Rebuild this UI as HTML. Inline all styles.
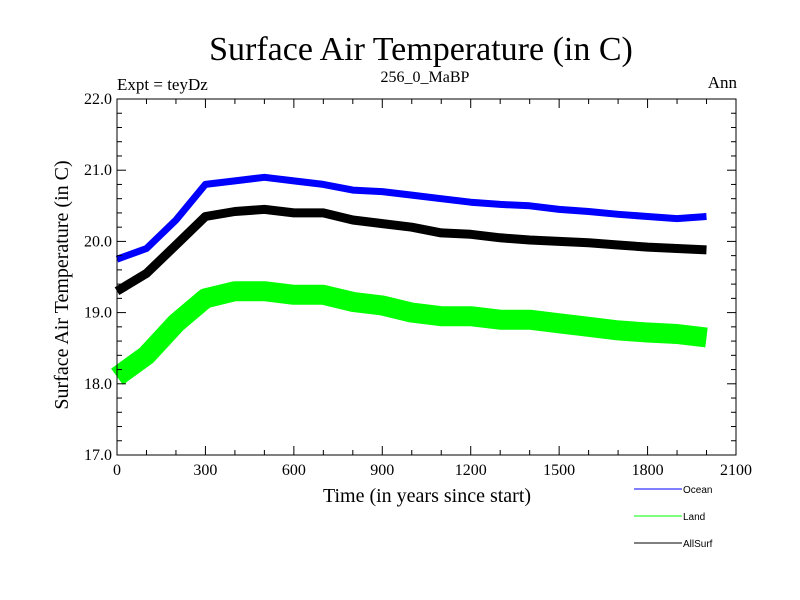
<!DOCTYPE html>
<html><head><meta charset="utf-8"><style>
body{margin:0;background:#fff}
svg{display:block}
text{font-family:"Liberation Serif",serif;fill:#000}
.lg{font-family:"Liberation Sans",sans-serif;font-size:10px}
</style></head><body>
<svg id="c" width="800" height="600">
<text x="421" y="60" font-size="34" text-anchor="middle">Surface Air Temperature (in C)</text>
<text x="117" y="90" font-size="17">Expt = teyDz</text>
<text x="425" y="82" font-size="16" text-anchor="middle">256_0_MaBP</text>
<text x="737" y="88" font-size="17" text-anchor="end">Ann</text>
<text transform="translate(68,285) rotate(-90)" font-size="20" text-anchor="middle">Surface Air Temperature (in C)</text>
<text x="427" y="502" font-size="20" text-anchor="middle">Time (in years since start)</text>
<g id="series"></g>
<g id="axes"></g>
<g>
<line x1="634" y1="489" x2="682" y2="489" stroke="#0000ff"/>
<text class="lg" x="683" y="493">Ocean</text>
<line x1="634" y1="516" x2="682" y2="516" stroke="#00ff00"/>
<text class="lg" x="683" y="520">Land</text>
<line x1="634" y1="543" x2="682" y2="543" stroke="#000"/>
<text class="lg" x="683" y="547">AllSurf</text>
</g>
</svg>
<script>
const years=[0,100,200,300,400,500,600,700,800,900,1000,1100,1200,1300,1400,1500,1600,1700,1800,1900,2000];
const ocean=[19.75,19.9,20.3,20.8,20.85,20.9,20.85,20.8,20.72,20.7,20.65,20.6,20.55,20.52,20.5,20.45,20.42,20.38,20.35,20.32,20.35];
const allsurf=[19.3,19.55,19.95,20.35,20.42,20.45,20.4,20.4,20.3,20.25,20.2,20.12,20.1,20.05,20.02,20.0,19.98,19.95,19.92,19.9,19.88];
const land=[18.1,18.4,18.85,19.2,19.3,19.3,19.25,19.25,19.15,19.1,19.0,18.95,18.95,18.9,18.9,18.85,18.8,18.75,18.72,18.7,18.65];
const xTicks=[0,300,600,900,1200,1500,1800,2100];
const yTicks=[17.0,18.0,19.0,20.0,21.0,22.0];
const L=117,R=736,T=99,B=455;
const sx=v=>L+(v-0)/(2100-0)*(R-L);
const sy=v=>B-(v-17)/(22-17)*(B-T);
const NS="http://www.w3.org/2000/svg";
const sg=document.getElementById('series'),ag=document.getElementById('axes');
function mk(tag,a,p){const e=document.createElementNS(NS,tag);for(const k in a)e.setAttribute(k,a[k]);p.appendChild(e);return e;}
function line(vals,color,w,name){
  const d=vals.map((v,i)=>(i?'L':'M')+sx(years[i]).toFixed(1)+','+sy(v).toFixed(1)).join('');
  const e=mk('path',{d:d,fill:'none',stroke:color,'stroke-width':w,'stroke-linejoin':'round','stroke-linecap':'butt'},sg);
  
  
}
line(land,'#00ff00',20,'land-series');
line(ocean,'#0000ff',7,'ocean-series');
line(allsurf,'#000000',9,'allsurf-series');
const fr=mk('rect',{x:L,y:T,width:R-L,height:B-T,fill:'none',stroke:'#000','stroke-width':1},ag);


for(let v=0;v<=2100;v+=100){const x=sx(v),len=v%300===0?9:5;
  mk('line',{x1:x,y1:B,x2:x,y2:B-len,stroke:'#000'},ag);mk('line',{x1:x,y1:T,x2:x,y2:T+len,stroke:'#000'},ag);}
for(let k=0;k<=25;k++){const v=17+k*0.2,y=sy(v),len=k%5===0?9:5;
  mk('line',{x1:L,y1:y,x2:L+len,y2:y,stroke:'#000'},ag);mk('line',{x1:R,y1:y,x2:R-len,y2:y,stroke:'#000'},ag);}
xTicks.forEach(v=>{const t=mk('text',{x:sx(v),y:B+20,'font-size':16,'text-anchor':'middle'},ag);t.textContent=v;
  
  });
yTicks.forEach(v=>{const t=mk('text',{x:L-5,y:sy(v)+5,'font-size':16,'text-anchor':'end'},ag);t.textContent=v.toFixed(1);
  
  });
</script>
</body></html>
